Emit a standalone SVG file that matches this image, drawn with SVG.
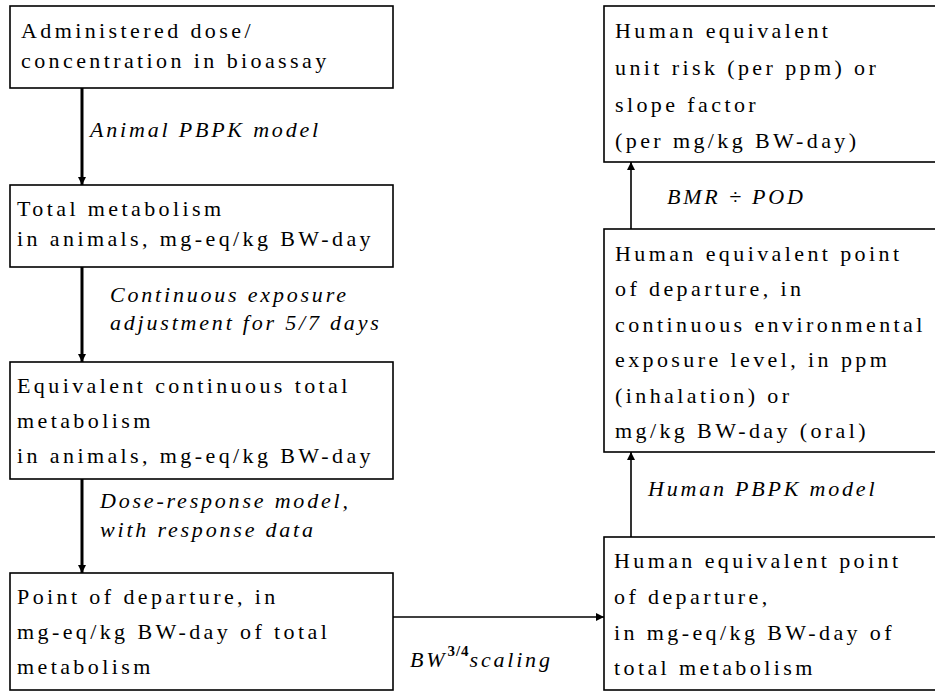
<svg xmlns="http://www.w3.org/2000/svg" width="935" height="691" viewBox="0 0 935 691">
<defs>
<style>
.box{fill:#fff;stroke:#000;stroke-width:1.6}
.t{font-family:"Liberation Serif","Times New Roman",serif;font-size:22px;letter-spacing:3.4px;fill:#000}
.l{font-family:"Liberation Serif","Times New Roman",serif;font-size:22px;font-style:italic;letter-spacing:2.8px;fill:#000}
.sup{font-family:"Liberation Serif","Times New Roman",serif;font-size:15px;font-weight:bold;font-style:normal;letter-spacing:1px}
.thick{stroke:#000;stroke-width:3;fill:none}
.thin{stroke:#000;stroke-width:1.6;fill:none}
</style>
<marker id="ah" viewBox="0 0 10 10" refX="10" refY="5" markerWidth="8" markerHeight="8" markerUnits="userSpaceOnUse" orient="auto">
<path d="M0,0 L10,5 L0,10 z" fill="#000"/>
</marker>
</defs>
<rect width="935" height="691" fill="#fff"/>
<g id="connectors">
<line class="thick" x1="82" y1="88" x2="82" y2="185" marker-end="url(#ah)"/>
<line class="thick" x1="82" y1="267" x2="82" y2="362" marker-end="url(#ah)"/>
<line class="thick" x1="82" y1="479" x2="82" y2="573" marker-end="url(#ah)"/>
<line class="thin" x1="393" y1="617" x2="604" y2="617" marker-end="url(#ah)"/>
<line class="thin" x1="631" y1="537" x2="631" y2="452" marker-end="url(#ah)"/>
<line class="thin" x1="631" y1="229" x2="631" y2="162" marker-end="url(#ah)"/>
<text class="l" x="90" y="137">Animal PBPK model</text>
<text class="l" x="110" y="302">Continuous exposure</text>
<text class="l" x="110" y="330">adjustment for 5/7 days</text>
<text class="l" x="100" y="508">Dose-response model,</text>
<text class="l" x="100" y="537">with response data</text>
<text class="l" x="410" y="667">BW<tspan class="sup" dy="-11">3/4</tspan><tspan dy="11">scaling</tspan></text>
<text class="l" x="648" y="496">Human PBPK model</text>
<text class="l" x="667" y="204">BMR ÷ POD</text>
</g>
<g id="n1">
<rect class="box" x="10" y="6" width="383" height="82"/>
<text class="t" x="21" y="38">Administered dose/</text>
<text class="t" x="21" y="68">concentration in bioassay</text>
</g>
<g id="n2">
<rect class="box" x="10" y="185" width="383" height="82"/>
<text class="t" x="17" y="216">Total metabolism</text>
<text class="t" x="17" y="246">in animals, mg-eq/kg BW-day</text>
</g>
<g id="n3">
<rect class="box" x="10" y="362" width="383" height="117"/>
<text class="t" x="17" y="393">Equivalent continuous total</text>
<text class="t" x="17" y="428">metabolism</text>
<text class="t" x="17" y="463">in animals, mg-eq/kg BW-day</text>
</g>
<g id="n4">
<rect class="box" x="10" y="573" width="383" height="117"/>
<text class="t" x="17" y="604">Point of departure, in</text>
<text class="t" x="17" y="639">mg-eq/kg BW-day of total</text>
<text class="t" x="17" y="674">metabolism</text>
</g>
<g id="n5">
<rect class="box" x="604" y="537" width="350" height="153"/>
<text class="t" x="614" y="568">Human equivalent point</text>
<text class="t" x="614" y="604">of departure,</text>
<text class="t" x="614" y="640">in mg-eq/kg BW-day of</text>
<text class="t" x="614" y="675">total metabolism</text>
</g>
<g id="n6">
<rect class="box" x="604" y="229" width="350" height="223"/>
<text class="t" x="615" y="261">Human equivalent point</text>
<text class="t" x="615" y="296">of departure, in</text>
<text class="t" x="615" y="332">continuous environmental</text>
<text class="t" x="615" y="367">exposure level, in ppm</text>
<text class="t" x="615" y="403">(inhalation) or</text>
<text class="t" x="615" y="438">mg/kg BW-day (oral)</text>
</g>
<g id="n7">
<rect class="box" x="604" y="6" width="350" height="156"/>
<text class="t" x="615" y="38">Human equivalent</text>
<text class="t" x="615" y="75">unit risk (per ppm) or</text>
<text class="t" x="615" y="112">slope factor</text>
<text class="t" x="615" y="148">(per mg/kg BW-day)</text>
</g>
</svg>
